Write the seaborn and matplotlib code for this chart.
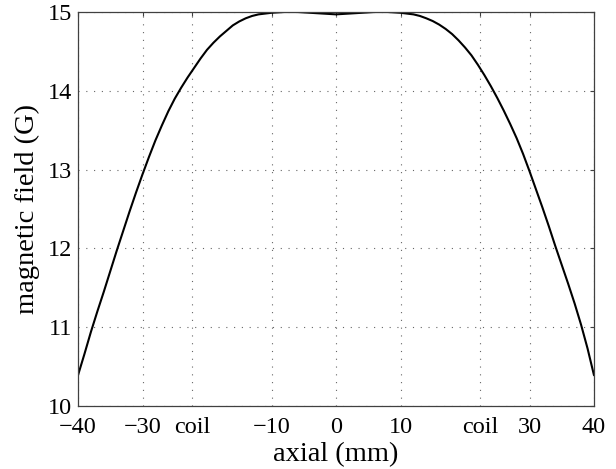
import matplotlib
matplotlib.use("Agg")
import matplotlib.pyplot as plt
import seaborn as sns
import pandas as pd

axial_mm = list(range(-40, 41))
field_G = [10.39, 10.66, 10.94, 11.20, 11.45, 11.71, 11.97, 12.22, 12.47, 12.71,
           12.94, 13.16, 13.37, 13.56, 13.74, 13.90, 14.04, 14.17, 14.29, 14.41,
           14.52, 14.61, 14.69, 14.76, 14.83, 14.88, 14.92, 14.95, 14.97, 14.98,
           14.99, 14.995, 15.0, 15.0, 15.0, 14.995, 14.99, 14.985, 14.98, 14.975,
           14.97,
           14.975, 14.98, 14.985, 14.99, 14.995, 15.0, 15.0, 15.0, 14.995, 14.99,
           14.98, 14.97, 14.95, 14.92, 14.885, 14.84, 14.785, 14.72, 14.64, 14.55,
           14.45, 14.33, 14.20, 14.06, 13.91, 13.75, 13.58, 13.40, 13.20, 12.98,
           12.75, 12.52, 12.28, 12.03, 11.79, 11.55, 11.30, 11.03, 10.73, 10.39]

xtick_pos = [-40, -30, -22.3, -10, 0, 10, 22.3, 30, 40]
xtick_labels = ["\u221240", "\u221230", "coil", "\u221210", "0", "10", "coil", "30", "40"]
ytick_pos = [10, 11, 12, 13, 14, 15]
ytick_labels = ["10", "11", "12", "13", "14", "15"]

sns.set_theme(style="white")
plt.rcParams['font.family'] = ['Liberation Serif', 'DejaVu Serif']

fig = plt.figure(figsize=(6.16, 4.69), dpi=100)
ax = fig.add_axes([78 / 616, 63 / 469, 516 / 616, 394 / 469])

df = pd.DataFrame({"axial": axial_mm, "field": field_G})
sns.lineplot(data=df, x="axial", y="field", ax=ax, color="black", linewidth=1.5)

ax.set_xlim(-40, 40)
ax.set_ylim(10, 15)
ax.set_xticks(xtick_pos)
ax.set_xticklabels(xtick_labels)
ax.set_yticks(ytick_pos)
ax.set_yticklabels(ytick_labels)
ax.tick_params(direction="in", top=True, right=True, length=3, width=0.8,
               color="#404040", labelsize=17.5, labelcolor="black")
ax.tick_params(axis="x", pad=8)
ax.tick_params(axis="y", pad=4)
ax.grid(True, linestyle=(0, (1, 6)), color="#666666", linewidth=0.8)
for s in ax.spines.values():
    s.set_color("#404040")
    s.set_linewidth(0.9)
ax.set_xlabel("axial (mm)", fontsize=20.5, labelpad=3, color="black")
ax.set_ylabel("magnetic field (G)", fontsize=20.5, labelpad=6, color="black")

fig.savefig("out.png", dpi=100)
